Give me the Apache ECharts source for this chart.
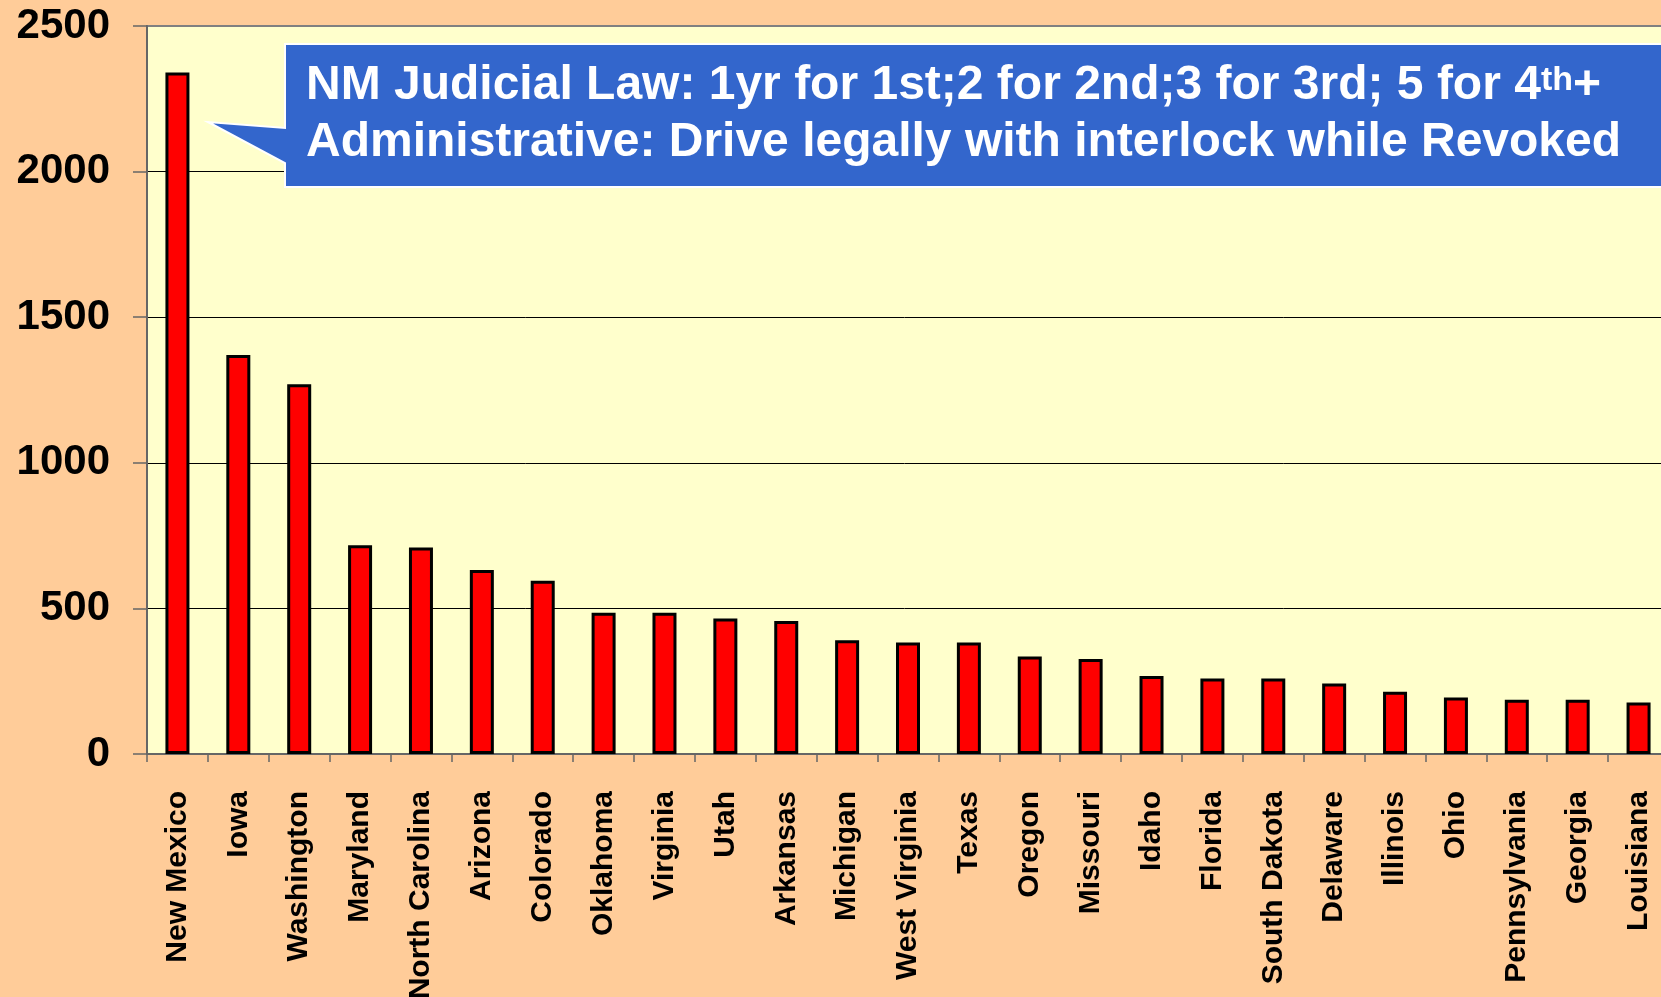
<!DOCTYPE html>
<html>
<head>
<meta charset="utf-8">
<title>Interlock installs by state</title>
<script src="https://cdn.jsdelivr.net/npm/echarts@6/dist/echarts.min.js"></script>
<style>
  html, body { margin: 0; padding: 0; background: #FFCC99; }
  #chart { width: 1661px; height: 997px; }
</style>
</head>
<body>
<div id="chart"></div>
<script>
// states, sorted as in the slide
const states = [
  'New Mexico', 'Iowa', 'Washington', 'Maryland', 'North Carolina', 'Arizona',
  'Colorado', 'Oklahoma', 'Virginia', 'Utah', 'Arkansas', 'Michigan',
  'West Virginia', 'Texas', 'Oregon', 'Missouri', 'Idaho', 'Florida',
  'South Dakota', 'Delaware', 'Illinois', 'Ohio', 'Pennsylvania', 'Georgia', 'Louisiana'
];
// values
const values = [
  2340, 1370, 1270, 717, 709, 632,
  595, 485, 485, 465, 457, 391,
  383, 383, 335, 326, 268, 259,
  259, 242, 214, 194, 186, 186, 177
];
const yTicks = [0, 500, 1000, 1500, 2000, 2500];

const calloutLine1 = 'NM Judicial Law: 1yr for 1st;2 for 2nd;3 for 3rd; 5 for 4';
const calloutLine2 = 'Administrative: Drive legally with interlock while Revoked';

const FONT = '"Liberation Sans", Arial, Helvetica, sans-serif';

const chart = echarts.init(document.getElementById('chart'));

const option = {
  backgroundColor: '#FFCC99',
  animation: false,
  grid: {
    left: 147, right: -8, top: 26, bottom: 243,
    outerBoundsMode: 'none',
    containLabel: false,
    show: true,
    backgroundColor: '#FFFFCC',
    borderColor: '#808080',
    borderWidth: 2
  },
  xAxis: {
    type: 'category',
    data: states,
    axisLine: { lineStyle: { color: '#666', width: 2 } },
    axisTick: { show: true, length: 8, lineStyle: { color: '#666', width: 1.5 } },
    axisLabel: {
      interval: 0,
      rotate: 90,
      margin: 37,
      color: '#000',
      fontFamily: FONT,
      fontWeight: 'bold',
      fontSize: 30
    }
  },
  yAxis: {
    type: 'value',
    min: yTicks[0],
    max: yTicks[yTicks.length - 1],
    interval: yTicks[1] - yTicks[0],
    axisLine: { show: true, lineStyle: { color: '#666', width: 2 } },
    axisTick: { show: true, length: 14, lineStyle: { color: '#666', width: 1.5 } },
    axisLabel: {
      margin: 37,
      color: '#000',
      fontFamily: FONT,
      fontWeight: 'bold',
      fontSize: 42,
      formatter: (v) => String(v)
    },
    splitLine: {
      lineStyle: { color: ['#000', '#000', '#000', '#000', '#000', '#808080'], width: 1 }
    }
  },
  series: [{
    type: 'bar',
    data: values,
    barWidth: 24,
    itemStyle: { color: '#FF0000', borderColor: '#000', borderWidth: 3 }
  }],
  graphic: [
    {
      // callout box with pointer toward the New Mexico bar
      type: 'polygon',
      z: 100,
      shape: {
        points: [[285, 44], [1672, 44], [1672, 187], [285, 187], [285, 163], [208, 122], [285, 128]]
      },
      style: { fill: '#3366CC', stroke: '#FFFFFF', lineWidth: 2 }
    },
    {
      type: 'text',
      z: 101,
      x: 306,
      y: 86,
      style: {
        text: '{a|' + calloutLine1 + '}{s|th}{a|+}',
        verticalAlign: 'middle',
        align: 'left',
        rich: {
          a: { fill: '#fff', fontFamily: FONT, fontWeight: 'bold', fontSize: 48, lineHeight: 44 },
          s: { fill: '#fff', fontFamily: FONT, fontWeight: 'bold', fontSize: 34, lineHeight: 30, verticalAlign: 'top' }
        }
      }
    },
    {
      type: 'text',
      z: 101,
      x: 306,
      y: 143,
      style: {
        text: calloutLine2,
        fill: '#fff',
        fontFamily: FONT,
        fontWeight: 'bold',
        fontSize: 48,
        verticalAlign: 'middle',
        align: 'left'
      }
    }
  ]
};

chart.setOption(option);

let resizeTimeout;
window.addEventListener('resize', () => {
  clearTimeout(resizeTimeout);
  resizeTimeout = setTimeout(() => chart.resize(), 100);
});
</script>
</body>
</html>
